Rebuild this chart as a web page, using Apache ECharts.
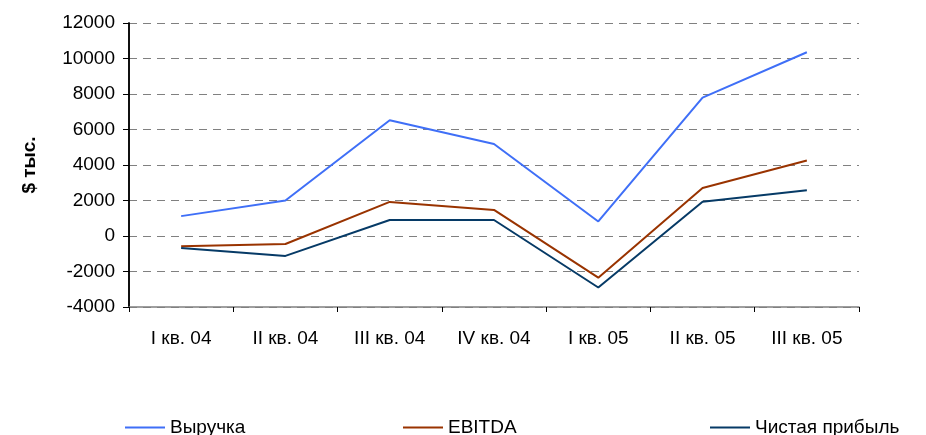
<!DOCTYPE html>
<html><head><meta charset="utf-8">
<script src="https://cdn.jsdelivr.net/npm/echarts@6/dist/echarts.min.js"></script>
<style>html,body{margin:0;padding:0;background:#fff}#c{width:926px;height:435px}</style>
</head><body><div id="c"></div>
<script>
const categories = ['I кв. 04','II кв. 04','III кв. 04','IV кв. 04','I кв. 05','II кв. 05','III кв. 05'];
const revenue = [1120, 2000, 6520, 5180, 820, 7800, 10350];
const ebitda = [-580, -450, 1920, 1470, -2350, 2700, 4250];
const netProfit = [-680, -1120, 900, 900, -2900, 1930, 2580];
const seriesNames = ['Выручка','EBITDA','Чистая прибыль'];
const colors = ['#3f6ff7','#993300','#063a66'];
const font = 'Liberation Sans, Arial, sans-serif';

const chart = echarts.init(document.getElementById('c'));
const legendX = [120, 398, 705];
const dataSets = [revenue, ebitda, netProfit];
chart.setOption({
  backgroundColor: '#fff',
  animation: false,
  grid: {left: 129, right: 67, top: 23, bottom: 128},
  legend: seriesNames.map((n, i) => ({
    data: [n], left: legendX[i], top: 413, icon: 'rect', itemWidth: 40, itemHeight: 2,
    textStyle: {fontFamily: font, fontSize: 19, color: '#000'}, selectedMode: false
  })),
  xAxis: {
    type: 'category', data: categories,
    axisLine: {show: true, onZero: false, lineStyle: {color: '#808080', width: 1.5}},
    axisTick: {show: true, lineStyle: {color: '#000'}, length: 5},
    axisLabel: {fontFamily: font, fontSize: 19, color: '#000', margin: 22}
  },
  yAxis: [{
    type: 'value', min: -4000, max: 12000, interval: 2000,
    name: '$ тыс.', nameLocation: 'middle', nameRotate: 90, nameGap: 90,
    nameTextStyle: {fontFamily: font, fontSize: 19, fontWeight: 'bold', color: '#000'},
    axisLine: {show: true, onZero: false, lineStyle: {color: '#000', width: 1.5}},
    axisTick: {show: true, inside: false, length: 6, lineStyle: {color: '#000'}},
    axisLabel: {fontFamily: font, fontSize: 19, color: '#000', margin: 14, formatter: v => String(v)},
    splitLine: {lineStyle: {color: '#808080', type: [8, 6], width: 1}}
  }, {
    type: 'value', min: -4000, max: 12000, interval: 2000, position: 'left', offset: 0,
    axisLine: {show: true, onZero: false, lineStyle: {color: '#000', width: 1.5}},
    axisTick: {show: false}, axisLabel: {show: false}, splitLine: {show: false}
  }],
  series: seriesNames.map((n, i) => ({
    name: n, type: 'line', data: dataSets[i], showSymbol: false, symbol: 'none',
    lineStyle: {color: colors[i], width: 2}, itemStyle: {color: colors[i]}
  }))
});
</script></body></html>
